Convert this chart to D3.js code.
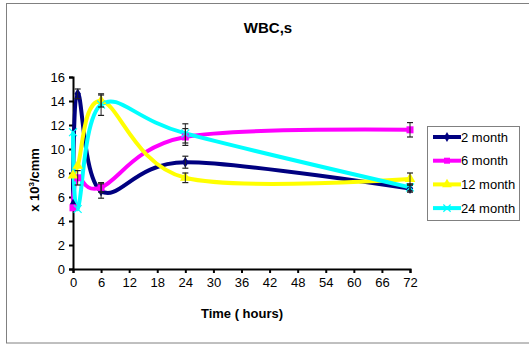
<!DOCTYPE html>
<html>
<head>
<meta charset="utf-8">
<script src="https://cdn.jsdelivr.net/npm/d3@7"></script>
<style>
  body { margin: 0; background: #fff; }
  text { font-family: "Liberation Sans", Arial, sans-serif; }
</style>
</head>
<body>
<div id="chart"></div>
<script>
let W = 529, H = 346;
let margin = {top: 77, left: 73},
    width = 410 - 73,
    height = 269 - 77;

// data
let hours = [0, 1, 6, 24, 72];
let series = ["2 month", "6 month", "12 month", "24 month"];
let colors = ["#000080", "#ff00ff", "#ffff00", "#00ffff"];
let month2 = [5.4, 14.6, 6.5, 8.9, 6.7];
let month6 = [5.1, 7.6, 6.8, 11.0, 11.6];
let month12 = [7.8, 8.6, 14.0, 7.6, 7.5];
let month24 = [11.4, 5.0, 13.7, 11.3, 6.8];
let err2 = [0, 0.4, 0.6, 0.5, 0.3];
let err6 = [0, 0.6, 0.4, 0.7, 0.6];
let err12 = [0, 0, 0.5, 0.4, 0.5];
let err24 = [0, 0, 0.9, 0.8, 0.3];
let xTicks = [0, 6, 12, 18, 24, 30, 36, 42, 48, 54, 60, 66, 72];
let yTicks = [0, 2, 4, 6, 8, 10, 12, 14, 16];

let values = [month2, month6, month12, month24];
let errs = [err2, err6, err12, err24];

let svg = d3.select("#chart").append("svg")
    .attr("width", W).attr("height", H);

// outer frame
svg.append("rect")
    .attr("x", 6.5).attr("y", 3.5)
    .attr("width", 530).attr("height", 339.5)
    .attr("fill", "none").attr("stroke", "#808080").attr("stroke-width", 1);

svg.append("text")
    .attr("x", 268).attr("y", 33)
    .attr("text-anchor", "middle")
    .style("font-size", "15px").style("font-weight", "700")
    .text("WBC,s");

let g = svg.append("g")
    .attr("transform", "translate(" + margin.left + "," + margin.top + ")");

let x = d3.scaleLinear().domain([0, 72]).range([0, width]);
let y = d3.scaleLinear().domain([0, 16]).range([height, 0]);

let xAxis = g.append("g")
    .attr("transform", "translate(0," + height + ")")
    .call(d3.axisBottom(x).tickValues(xTicks).tickSize(4).tickPadding(5));
let yAxis = g.append("g")
    .call(d3.axisLeft(y).tickValues(yTicks).tickSize(4).tickPadding(4));
[xAxis, yAxis].forEach(a => {
  a.select(".domain").attr("stroke", "#000").attr("stroke-width", 2);
  a.selectAll(".tick line").attr("stroke", "#000").attr("stroke-width", 2);
  a.selectAll("text").style("font-size", "13px").attr("fill", "#000")
    .style("font-family", "'Liberation Sans', Arial, sans-serif");
});

svg.append("text")
    .attr("x", 242).attr("y", 318)
    .attr("text-anchor", "middle")
    .style("font-size", "13px").style("font-weight", "700")
    .text("Time ( hours)");

let yt = svg.append("text")
    .attr("transform", "translate(39,180) rotate(-90)")
    .attr("text-anchor", "middle")
    .style("font-size", "13px").style("font-weight", "700");
yt.append("tspan").text("x 10");
yt.append("tspan").attr("dy", -5).style("font-size", "8px").text("3");
yt.append("tspan").attr("dy", 5).text("/cmm");

let line = d3.line()
    .x((d, i) => x(hours[i]))
    .y(d => y(d))
    .curve(d3.curveCardinal.tension(0));

values.forEach((vals, s) => {
  g.append("path")
    .attr("d", line(vals))
    .attr("fill", "none")
    .attr("stroke", colors[s])
    .attr("stroke-width", 4);
});

function marker(sel, s, cx, cy, size) {
  if (s == 0) {
    sel.append("path").attr("d", d3.symbol(d3.symbolDiamond, size * 5)())
      .attr("transform", "translate(" + cx + "," + cy + ")").attr("fill", colors[s]);
  } else if (s == 1) {
    sel.append("rect").attr("x", cx - size / 2).attr("y", cy - size / 2)
      .attr("width", size).attr("height", size).attr("fill", colors[s]);
  } else if (s == 2) {
    sel.append("path").attr("d", d3.symbol(d3.symbolTriangle, size * 7)())
      .attr("transform", "translate(" + cx + "," + cy + ")").attr("fill", colors[s]);
  } else {
    sel.append("path").attr("d", d3.symbol(d3.symbolX, size * 6)())
      .attr("transform", "translate(" + cx + "," + cy + ")")
      .attr("stroke", colors[s]).attr("stroke-width", 1.2).attr("fill", "none");
  }
}

values.forEach((vals, s) => {
  vals.forEach((v, i) => {
    marker(g, s, x(hours[i]), y(v), 7);
  });
});

// error bars
values.forEach((vals, s) => {
  vals.forEach((v, i) => {
    let e = errs[s][i];
    if (!e) return;
    let cx = x(hours[i]);
    g.append("line").attr("x1", cx).attr("x2", cx)
      .attr("y1", y(v - e)).attr("y2", y(v + e))
      .attr("stroke", "#222").attr("stroke-width", 1);
    [v - e, v + e].forEach(t => {
      g.append("line").attr("x1", cx - 3).attr("x2", cx + 3)
        .attr("y1", y(t)).attr("y2", y(t))
        .attr("stroke", "#222").attr("stroke-width", 1.2);
    });
  });
});

// legend
let lg = svg.append("g");
lg.append("rect")
    .attr("x", 427.5).attr("y", 126.5)
    .attr("width", 92).attr("height", 94)
    .attr("fill", "#fff").attr("stroke", "#808080");
series.forEach((name, s) => {
  let ly = 137 + s * 23.7;
  lg.append("line").attr("x1", 433).attr("x2", 461)
    .attr("y1", ly).attr("y2", ly)
    .attr("stroke", colors[s]).attr("stroke-width", 4);
  marker(lg, s, 447, ly, 6);
  lg.append("text").attr("x", 461).attr("y", ly + 4.5)
    .style("font-size", "13px").text(name);
});
</script>
</body>
</html>
